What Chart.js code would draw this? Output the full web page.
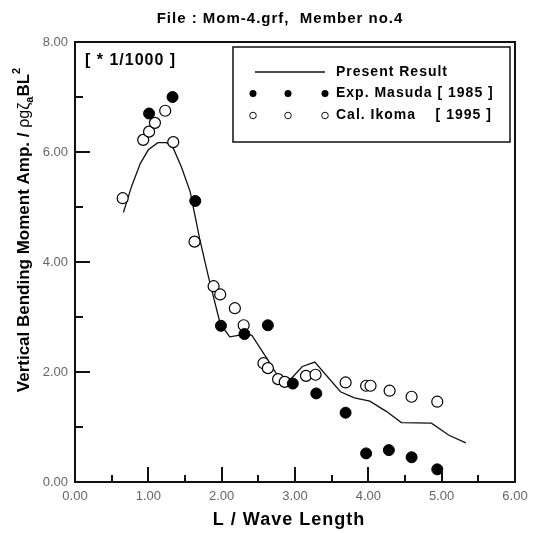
<!DOCTYPE html>
<html>
<head>
<meta charset="utf-8">
<script src="https://cdn.jsdelivr.net/npm/chart.js@4.4.0/dist/chart.umd.min.js"></script>
<style>
  html, body { margin: 0; padding: 0; background: #fff; }
</style>
</head>
<body>
<canvas id="mom-chart" width="535" height="533"></canvas>
<script>
// values (units of 1/1000)
const lineX = [0.66, 0.77, 0.89, 1.00, 1.13, 1.25, 1.34, 1.45, 1.57, 1.70, 1.82, 1.98, 2.11, 2.25, 2.41, 2.61, 2.76, 2.90, 2.94, 3.10, 3.27, 3.62, 3.81, 4.02, 4.25, 4.45, 4.86, 5.10, 5.33];
const lineY = [4.90, 5.37, 5.79, 6.04, 6.17, 6.17, 6.07, 5.73, 5.28, 4.42, 3.73, 2.88, 2.64, 2.67, 2.67, 2.26, 1.94, 1.89, 1.87, 2.10, 2.18, 1.64, 1.53, 1.47, 1.28, 1.08, 1.07, 0.85, 0.71];

const masudaX = [1.01, 1.33, 1.64, 1.99, 2.31, 2.63, 2.97, 3.29, 3.69, 3.97, 4.28, 4.59, 4.94];
const masudaY = [6.70, 7.00, 5.11, 2.84, 2.69, 2.85, 1.79, 1.61, 1.26, 0.52, 0.58, 0.45, 0.23];

const ikomaX = [0.65, 0.93, 1.01, 1.09, 1.23, 1.34, 1.63, 1.89, 1.98, 2.18, 2.30, 2.57, 2.63, 2.77, 2.86, 3.15, 3.28, 3.69, 3.97, 4.03, 4.29, 4.59, 4.94];
const ikomaY = [5.16, 6.22, 6.37, 6.53, 6.75, 6.18, 4.37, 3.56, 3.41, 3.16, 2.85, 2.16, 2.07, 1.87, 1.82, 1.93, 1.95, 1.81, 1.75, 1.75, 1.66, 1.55, 1.46];

const seriesNames = ['Present Result', 'Exp. Masuda [ 1985 ]', 'Cal. Ikoma    [ 1995 ]'];
const chartTitle = 'File : Mom-4.grf,  Member no.4';
const xTitle = 'L / Wave Length';
const scaleNote = '[ * 1/1000 ]';

const FONT = '"Liberation Sans", Arial, sans-serif';

function pts(xs, ys) {
    return xs.map((x, i) => ({ x: x, y: ys[i] }));
}

// frame, inward ticks, titles and the boxed legend
const decorations = {
    id: 'decorations',
    afterDraw(chart) {
        const ctx = chart.ctx;
        const a = chart.chartArea;
        const xs = chart.scales.x;
        const ys = chart.scales.y;
        ctx.save();

        ctx.strokeStyle = '#111';
        ctx.lineWidth = 2;
        ctx.strokeRect(a.left, a.top, a.right - a.left, a.bottom - a.top);

        // ticks pointing into the plot
        for (let v = 0.5; v < 6; v += 0.5) {
            const px = Math.round(xs.getPixelForValue(v));
            const len = Number.isInteger(v) ? 15 : 7;
            ctx.beginPath();
            ctx.moveTo(px, a.bottom);
            ctx.lineTo(px, a.bottom - len);
            ctx.stroke();
        }
        for (let v = 1; v < 8; v++) {
            const py = Math.round(ys.getPixelForValue(v));
            const len = v % 2 === 0 ? 15 : 8;
            ctx.beginPath();
            ctx.moveTo(a.left, py);
            ctx.lineTo(a.left + len, py);
            ctx.stroke();
        }

        ctx.fillStyle = '#000';
        ctx.letterSpacing = '1px';

        // title
        ctx.font = 'bold 15px ' + FONT;
        ctx.textAlign = 'center';
        ctx.textBaseline = 'alphabetic';
        ctx.fillText(chartTitle, 280, 23);

        // x title
        ctx.font = 'bold 18px ' + FONT;
        ctx.fillText(xTitle, 289, 525);

        // scale note
        ctx.textAlign = 'left';
        ctx.font = 'bold 16px ' + FONT;
        ctx.fillText(scaleNote, 85, 65);

        // y title with sub/superscript
        ctx.letterSpacing = '0px';
        const parts = [
            { t: 'Vertical Bending Moment Amp. / ', f: 'bold 17px ' + FONT, dy: 0 },
            { t: 'ρgζ', f: '16px ' + FONT, dy: 0 },
            { t: 'a', f: 'bold 11px ' + FONT, dy: 4 },
            { t: 'BL', f: 'bold 17px ' + FONT, dy: 0 },
            { t: '2', f: 'bold 11px ' + FONT, dy: -9 }
        ];
        let total = 0;
        parts.forEach(p => { ctx.font = p.f; p.w = ctx.measureText(p.t).width; total += p.w; });
        ctx.save();
        ctx.translate(29, 230);
        ctx.rotate(-Math.PI / 2);
        let tx = -total / 2;
        parts.forEach(p => {
            ctx.font = p.f;
            ctx.fillText(p.t, tx, p.dy);
            tx += p.w;
        });
        ctx.restore();
        ctx.letterSpacing = '1px';

        // legend box
        ctx.lineWidth = 1.5;
        ctx.strokeStyle = '#111';
        ctx.fillStyle = '#fff';
        ctx.fillRect(233, 47, 277, 95);
        ctx.strokeRect(233, 47, 277, 95);

        const rows = [72, 93.5, 115.5];
        const dotX = [253, 288, 325];
        ctx.beginPath();
        ctx.moveTo(255, rows[0]);
        ctx.lineTo(325, rows[0]);
        ctx.stroke();
        dotX.forEach(dx => {
            ctx.beginPath();
            ctx.arc(dx, rows[1], 3.5, 0, Math.PI * 2);
            ctx.fillStyle = '#000';
            ctx.fill();
            ctx.beginPath();
            ctx.arc(dx, rows[2], 3.3, 0, Math.PI * 2);
            ctx.lineWidth = 1;
            ctx.stroke();
        });

        ctx.fillStyle = '#000';
        ctx.font = 'bold 14px ' + FONT;
        ctx.textBaseline = 'middle';
        seriesNames.forEach((name, i) => ctx.fillText(name, 336, rows[i]));

        ctx.restore();
    }
};

const ctx = document.getElementById('mom-chart');

new Chart(ctx, {
    type: 'scatter',
    data: {
        datasets: [{
            label: seriesNames[0],
            data: pts(lineX, lineY),
            showLine: true,
            borderColor: '#111',
            borderWidth: 1.3,
            pointRadius: 0,
            tension: 0,
            order: 3
        }, {
            label: seriesNames[1],
            data: pts(masudaX, masudaY),
            pointRadius: 5.5,
            pointBackgroundColor: '#000',
            pointBorderColor: '#000',
            pointBorderWidth: 1,
            order: 1
        }, {
            label: seriesNames[2],
            data: pts(ikomaX, ikomaY),
            pointRadius: 5.5,
            pointBackgroundColor: '#fff',
            pointBorderColor: '#000',
            pointBorderWidth: 1.2,
            order: 2
        }]
    },
    options: {
        responsive: false,
        animation: false,
        devicePixelRatio: 1,
        layout: { padding: { top: 42, right: 20, left: 0, bottom: 0 } },
        plugins: {
            legend: { display: false },
            tooltip: { enabled: false }
        },
        scales: {
            x: {
                type: 'linear',
                min: 0,
                max: 6,
                grid: { display: false, drawTicks: false },
                border: { display: false },
                ticks: {
                    stepSize: 1,
                    padding: 7,
                    color: '#666',
                    font: { family: FONT, size: 13 },
                    callback: v => v.toFixed(2)
                },
                afterFit: s => { s.height = 51; }
            },
            y: {
                min: 0,
                max: 8,
                grid: { display: false, drawTicks: false },
                border: { display: false },
                ticks: {
                    stepSize: 2,
                    padding: 7,
                    color: '#666',
                    font: { family: FONT, size: 13 },
                    callback: v => v.toFixed(2)
                },
                afterFit: s => { s.width = 75; }
            }
        }
    },
    plugins: [decorations]
});
</script>
</body>
</html>
